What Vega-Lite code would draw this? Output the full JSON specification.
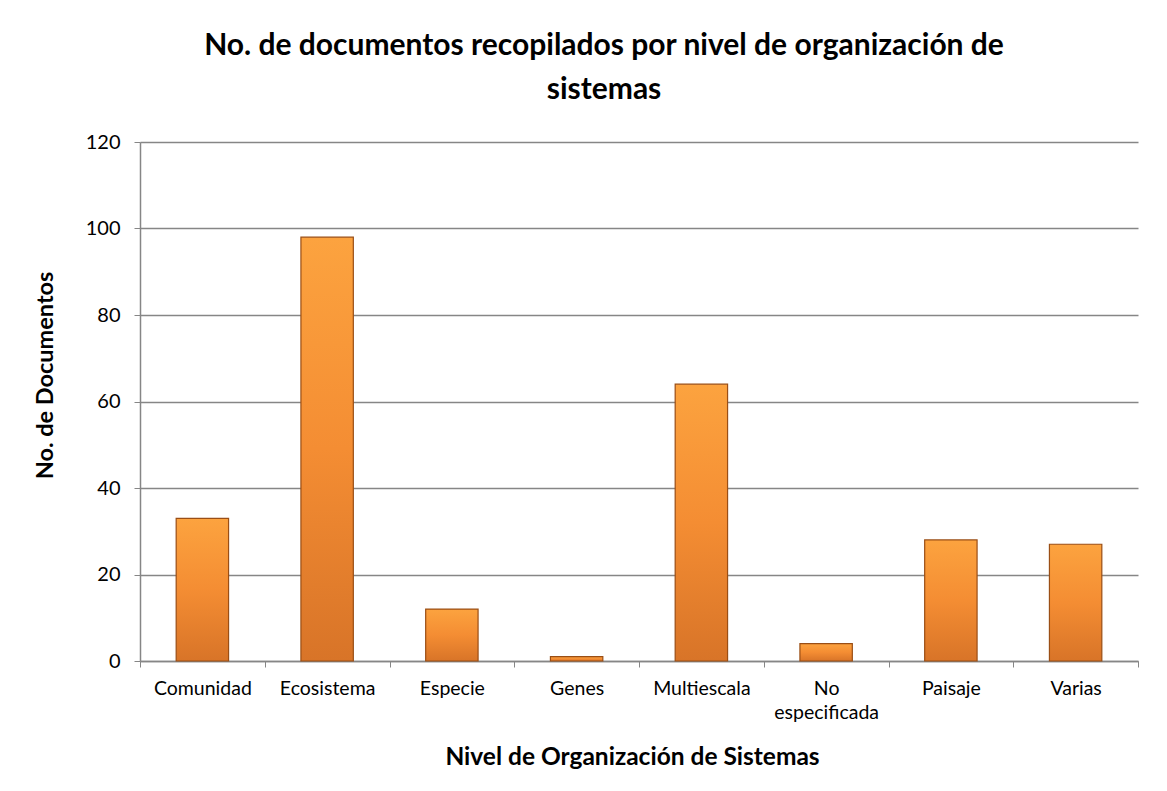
{
  "$schema": "https://vega.github.io/schema/vega-lite/v6.json",
  "autosize": {"type": "none"},
  "width": 998,
  "height": 519,
  "padding": {"left": 140, "top": 142, "right": 29, "bottom": 130},
  "background": "white",
  "title": {
    "text": ["No. de documentos recopilados por nivel de organización de", "sistemas"],
    "font": "Lato",
    "fontSize": 30,
    "fontWeight": "bold",
    "color": "#000000",
    "lineHeight": 44,
    "anchor": "middle",
    "dx": -35,
    "offset": 27
  },
  "data": {
    "values": [
      {"nivel": "Comunidad", "documentos": 33},
      {"nivel": "Ecosistema", "documentos": 98},
      {"nivel": "Especie", "documentos": 12},
      {"nivel": "Genes", "documentos": 1},
      {"nivel": "Multiescala", "documentos": 64},
      {"nivel": "No especificada", "documentos": 4},
      {"nivel": "Paisaje", "documentos": 28},
      {"nivel": "Varias", "documentos": 27}
    ]
  },
  "mark": {
    "type": "bar",
    "width": {"band": 0.42},
    "stroke": "#9A4E15",
    "strokeWidth": 1.2,
    "color": {
      "gradient": "linear",
      "x1": 0, "y1": 0, "x2": 0, "y2": 1,
      "stops": [
        {"offset": 0, "color": "#FCA33F"},
        {"offset": 0.5, "color": "#F48D33"},
        {"offset": 1, "color": "#D87428"}
      ]
    }
  },
  "encoding": {
    "x": {
      "field": "nivel",
      "type": "nominal",
      "sort": null,
      "scale": {"paddingInner": 0, "paddingOuter": 0},
      "axis": {
        "title": "Nivel de Organización de Sistemas",
        "titleFont": "Lato",
        "titleFontSize": 24.5,
        "titleFontWeight": "bold",
        "titleColor": "#000000",
        "titleX": 492,
        "titleY": 96,
        "titleBaseline": "middle",
        "titleAlign": "center",
        "labelFont": "Lato",
        "labelFontSize": 19.5,
        "labelColor": "#000000",
        "labelAngle": 0,
        "labelPadding": 12,
        "labelLineHeight": 24,
        "labelExpr": "datum.value == 'No especificada' ? ['No', 'especificada'] : datum.value",
        "tickBand": "extent",
        "tickSize": 6,
        "tickColor": "#868686",
        "domainColor": "#868686",
        "domainWidth": 1.5,
        "grid": false
      }
    },
    "y": {
      "field": "documentos",
      "type": "quantitative",
      "scale": {"domain": [0, 120], "nice": false},
      "axis": {
        "title": "No. de Documentos",
        "titleFont": "Lato",
        "titleFontSize": 23.5,
        "titleFontWeight": "bold",
        "titleColor": "#000000",
        "titleX": -95,
        "titleY": 233,
        "titleAngle": -90,
        "titleAlign": "center",
        "titleBaseline": "middle",
        "values": [0, 20, 40, 60, 80, 100, 120],
        "labelFont": "Lato",
        "labelFontSize": 20,
        "labelColor": "#000000",
        "labelPadding": 14,
        "tickSize": 6,
        "tickColor": "#868686",
        "domainColor": "#868686",
        "domainWidth": 1.5,
        "grid": true,
        "gridColor": "#868686",
        "gridWidth": 1.3
      }
    }
  },
  "config": {
    "view": {"stroke": null}
  }
}
